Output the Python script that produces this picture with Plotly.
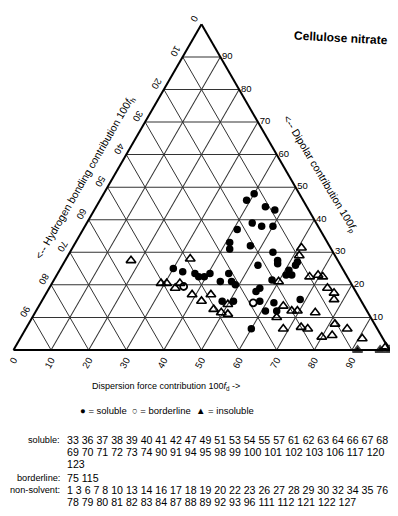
import plotly.graph_objects as go

# ---------------- data (percent contributions) ----------------
# soluble solvents: fp = dipolar, fd = dispersion, fh = hydrogen bonding
sol_fp = [48, 46, 44, 43, 39, 38, 38, 37, 33, 31, 32, 30, 27, 26, 27.5, 26, 24.5, 23, 23,
          25, 24, 23.5, 22.5, 22.5, 23.5, 23.5, 21, 21, 20, 21.5, 19, 18, 15, 15, 15, 14.5,
          15.5, 12, 12, 6.5, 26.5]
sol_fd = [40, 39, 45, 48, 44, 47, 50, 41, 41, 42, 47, 54, 62, 62, 56.5, 52, 61, 61, 62.5,
          30, 33, 36.5, 38, 39.5, 40.5, 45.5, 44.5, 47.5, 49, 58, 56, 55.5, 48, 51, 58, 62,
          68.5, 61, 64, 60, 57]
sol_fh = [12, 15, 11, 9, 17, 15, 12, 22, 26, 27, 21, 16, 11, 12, 16, 22, 14.5, 16, 14.5,
          45, 43, 40, 39.5, 38, 36, 31, 34.5, 31.5, 31, 20.5, 25, 26.5, 37, 34, 27, 23.5,
          16, 27, 24, 33.5, 16.5]

# borderline solvents
bor_fp = [19.5, 14.5]
bor_fd = [35.5, 56.5]
bor_fh = [45, 29]

# insoluble (non-solvents)
ins_fp = [27.5, 28, 20.5, 20.5, 19, 20.5, 17, 15, 17, 14, 12.5, 11.5, 11, 21, 29, 34.5,
          22.5, 23, 22.5, 19, 17.5, 15.5, 13.5, 12, 12, 10, 11.5, 6.5, 7, 6.5, 8, 6.5, 4,
          4.5, 3.5, 0, 0, 1, 0]
ins_fd = [17.5, 33, 29, 30.5, 33.5, 34, 39, 42.5, 44, 50, 47, 49.5, 51.5, 60, 61.5, 67,
          67.5, 69.5, 71, 74, 76.5, 77.5, 65, 68, 69.5, 65, 74.5, 68.5, 73, 75, 81.5, 85.5,
          80, 82.5, 91, 91.5, 97.5, 98.5, 100]
ins_fh = [55, 39, 50.5, 49, 47.5, 45.5, 44, 42.5, 39, 36, 40.5, 39, 37.5, 19, 9.5, 8.5,
          10, 7.5, 6.5, 7, 6, 7, 21.5, 20, 18.5, 25, 14, 25, 20, 18.5, 10.5, 8, 16, 13, 5.5,
          8.5, 2.5, 0.5, 0]

# tick values (grid every 10 %)
tick_vals = [10, 20, 30, 40, 50, 60, 70, 80, 90, 100]

# solvent numbers
soluble_ids = [33, 36, 37, 38, 39, 40, 41, 42, 47, 49, 51, 53, 54, 55, 57, 61, 62, 63, 64, 66,
               67, 68, 69, 70, 71, 72, 73, 74, 90, 91, 94, 95, 98, 99, 100, 101, 102, 103,
               106, 117, 120, 123]
borderline_ids = [75, 115]
nonsolvent_ids = [1, 3, 6, 7, 8, 10, 13, 14, 16, 17, 18, 19, 20, 22, 23, 26, 27, 28, 29, 30,
                  32, 34, 35, 76, 78, 79, 80, 81, 82, 83, 84, 87, 88, 89, 92, 93, 96, 111,
                  112, 121, 122, 127]

# ---------------- figure ----------------
# the page body has an 8 px margin, so the figure is 8 px smaller on each side
OFF = 8
W, H = 390, 508
FONT = "Liberation Sans, Arial, Helvetica, sans-serif"


def px(x):
    """page x (pixels) -> paper fraction"""
    return (x - OFF) / W


def py(y):
    """page y (pixels) -> paper fraction"""
    return 1 - (y - OFF) / H


fig = go.Figure()

fig.add_trace(go.Scatterternary(
    a=sol_fp, b=sol_fh, c=sol_fd, mode="markers", name="soluble",
    marker=dict(symbol="circle", size=7.5, color="black", line=dict(width=0)),
    cliponaxis=False))

fig.add_trace(go.Scatterternary(
    a=bor_fp, b=bor_fh, c=bor_fd, mode="markers", name="borderline",
    marker=dict(symbol="circle-open", size=7, color="black", line=dict(width=1.8)),
    cliponaxis=False))

ins_symbols = ["triangle-up" if p < 1 else "triangle-up-open" for p in ins_fp]
fig.add_trace(go.Scatterternary(
    a=ins_fp, b=ins_fh, c=ins_fd, mode="markers", name="insoluble",
    marker=dict(symbol=ins_symbols, size=8.5, color="black", line=dict(width=1.6)),
    cliponaxis=False))

axis_common = dict(
    tickmode="array", tickvals=tick_vals,
    ticktext=[str(100 - v) for v in tick_vals],
    showline=True, linecolor="black", linewidth=2,
    showgrid=True, gridcolor="#333333", gridwidth=0.8,
    ticks="", tickfont=dict(size=9.5, family=FONT, color="black"),
    title=dict(text=""), min=0,
)

# triangle in page pixels: x 13.5..389.5, bottom at y 350
tri_left, tri_right = 13.5, 389.5
tri_h = (tri_right - tri_left) * 3 ** 0.5 / 2
yc_page = 350 - tri_h / 2
yc = py(yc_page)
fig.update_layout(
    width=W, height=H,
    margin=dict(l=0, r=0, t=0, b=0),
    paper_bgcolor="white", plot_bgcolor="white",
    showlegend=False,
    font=dict(family=FONT, color="black", size=10),
    ternary=dict(
        sum=100,
        domain=dict(x=[px(tri_left), px(tri_right)], y=[yc - 0.335, yc + 0.335]),
        bgcolor="white",
        aaxis=dict(axis_common, tickangle=120),
        baxis=dict(axis_common, tickangle=-60),
        caxis=dict(axis_common, tickangle=0),
    ),
)

ann = []


def note(x, y, text, size, angle=0, xanchor="center"):
    ann.append(dict(x=px(x), y=py(y), xref="paper", yref="paper", text=text,
                    showarrow=False, textangle=angle, xanchor=xanchor, yanchor="middle",
                    font=dict(size=size)))


note(341, 38, "<b>Cellulose nitrate</b>", 12, angle=3)
note(85, 178, "&lt;-- Hydrogen bonding contribution 100<i>f</i><sub>h</sub>", 10.5, angle=-60)
note(320, 174, "&lt;-- Dipolar contribution 100<i>f</i><sub>p</sub>", 10.5, angle=59)
note(166, 386, "Dispersion force contribution 100<i>f</i><sub>d</sub> -&gt;", 9)
note(167, 410, "\u25CF = soluble  <b>\u25CB</b> = borderline  \u25B2 = insoluble", 9.5)


def chunks(seq, sizes):
    out, i = [], 0
    for s in sizes:
        out.append(" ".join(str(v) for v in seq[i:i + s]))
        i += s
    return out


rows = []
for k, line in enumerate(chunks(soluble_ids, [22, 19, 1])):
    rows.append(("soluble:" if k == 0 else "", line, 440 + 12 * k))
rows.append(("borderline:", " ".join(str(v) for v in borderline_ids), 478))
for k, line in enumerate(chunks(nonsolvent_ids, [24, 18])):
    rows.append(("non-solvent:" if k == 0 else "", line, 490 + 12 * k))

for lab, line, yy in rows:
    if lab:
        note(62, yy, lab, 9.2, xanchor="right")
    note(65, yy, line, 10.6, xanchor="left")

fig.update_layout(annotations=ann)
fig.write_html("out.html")
